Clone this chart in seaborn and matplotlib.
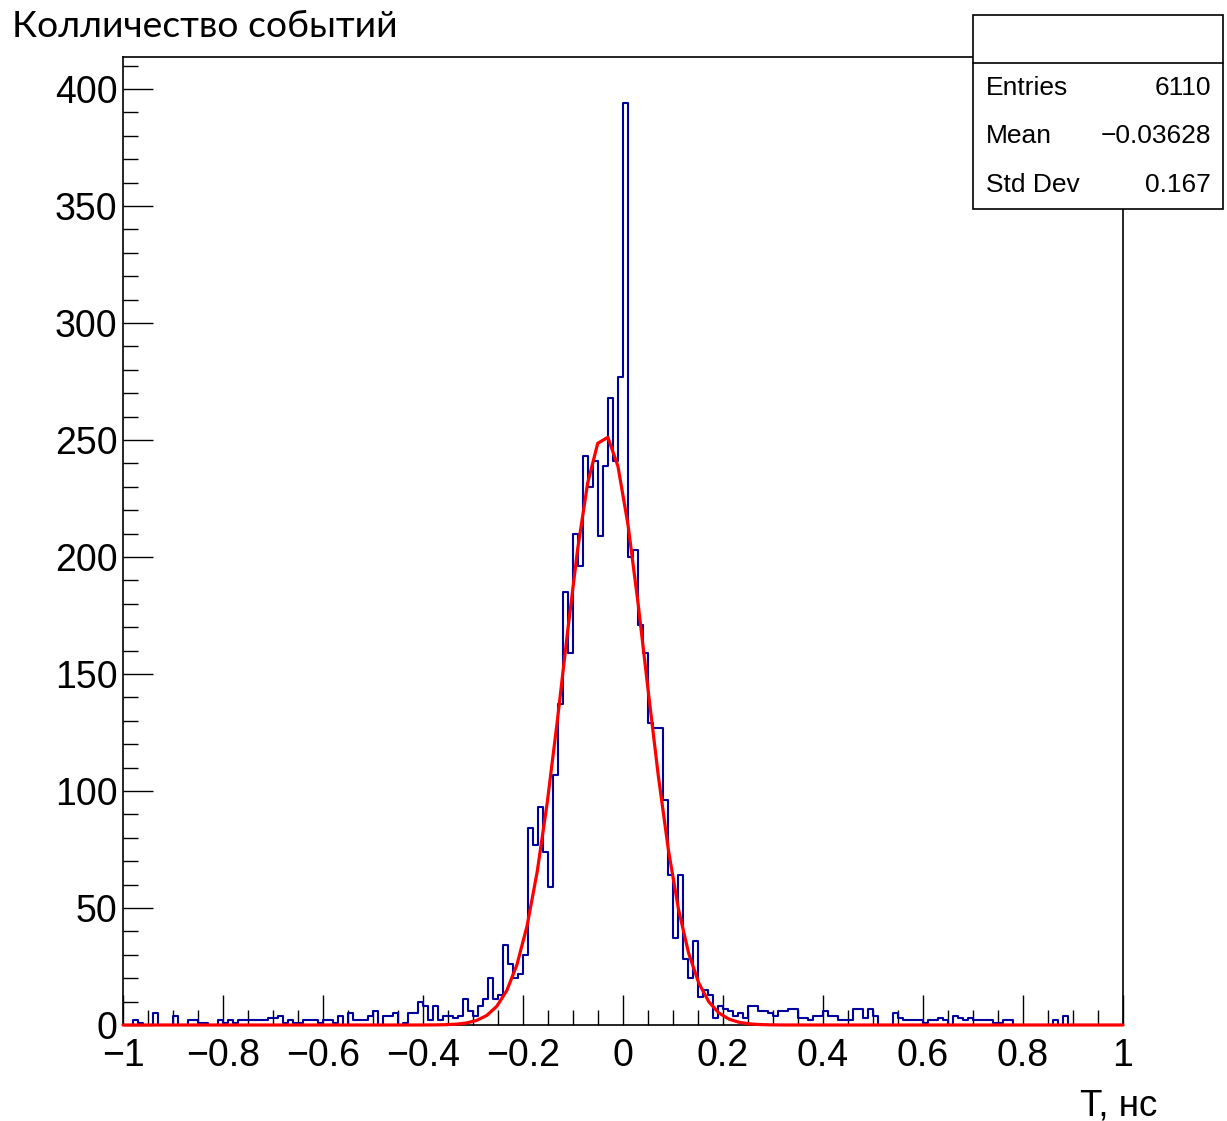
import numpy as np
import pandas as pd
import matplotlib
matplotlib.use("Agg")
import matplotlib.pyplot as plt
import seaborn as sns
from matplotlib.patches import Rectangle
from matplotlib.lines import Line2D
from matplotlib.ticker import MultipleLocator, FixedLocator, FixedFormatter

# ---------------- data ----------------
x_low, x_high = -1.0, 1.0
n_bins = 200

counts_left_tail = [  # bins 0..67  (T from -1.00 to -0.32)
    0, 0, 2, 1, 0, 0, 5, 0, 0, 0,
    4, 0, 0, 2, 2, 1, 1, 0, 0, 2,
    1, 2, 1, 2, 2, 2, 2, 2, 2, 3,
    3, 4, 1, 2, 1, 1, 2, 2, 2, 1,
    2, 2, 1, 4, 0, 5, 2, 2, 2, 4,
    6, 0, 4, 4, 5, 0, 1, 5, 5, 10,
    8, 2, 8, 2, 4, 4, 3, 4,
]
counts_core = [  # bins 68..134 (T from -0.32 to 0.35)
    11, 6, 4, 8, 11, 20, 11, 13, 34, 26,
    20, 22, 30, 84, 77, 93, 74, 59, 107, 137,
    185, 159, 210, 196, 243, 230, 241, 209, 239, 268,
    241, 277, 394, 200, 203, 171, 159, 129, 127, 127,
    96, 64, 37, 64, 28, 20, 36, 12, 15, 13,
    3, 8, 7, 6, 4, 5, 3, 8, 8, 6,
    6, 5, 4, 6, 6, 7, 7,
]
counts_right_tail = [  # bins 135..199 (T from 0.35 to 1.00)
    3, 3, 2, 4, 4, 6, 4, 4, 2, 2,
    2, 7, 7, 3, 7, 4, 0, 0, 0, 5,
    3, 2, 2, 2, 2, 1, 2, 2, 3, 2,
    0, 4, 3, 2, 3, 2, 2, 2, 2, 1,
    1, 2, 2, 0, 0, 0, 0, 0, 0, 0,
    0, 2, 0, 4, 0, 0, 0, 0, 0, 0,
    0, 0, 0, 0, 0,
]
counts = counts_left_tail + counts_core + counts_right_tail

# Gaussian fit (drawn as a 100-point polyline, like ROOT)
fit_constant = 252.0
fit_mean = -0.037
fit_sigma = 0.082
fit_npx = 100

x_tick_values = [-1.0, -0.8, -0.6, -0.4, -0.2, 0.0, 0.2, 0.4, 0.6, 0.8, 1.0]
x_tick_labels = ["\u22121", "\u22120.8", "\u22120.6", "\u22120.4", "\u22120.2",
                 "0", "0.2", "0.4", "0.6", "0.8", "1"]
y_tick_values = [0, 50, 100, 150, 200, 250, 300, 350, 400]
y_tick_labels = ["0", "50", "100", "150", "200", "250", "300", "350", "400"]

title_text = "Колличество событий"
x_label_text = "T, нс"
stats_names = ["Entries", "Mean", "Std Dev"]
stats_values = ["6110", "\u22120.03628", "0.167"]

# ---------------- style ----------------
sns.set_style("white")
plt.rcParams["font.family"] = ["Liberation Sans", "DejaVu Sans"]

W, H = 1227, 1121
fig = plt.figure(figsize=(W / 100, H / 100), dpi=100)
fig.patch.set_facecolor("white")

def fx(px):
    return px / W

def fy(py):
    return 1 - py / H

ax = fig.add_axes([fx(123), fy(1025), (1123 - 123) / W, (1025 - 57) / H])

edges = np.linspace(x_low, x_high, n_bins + 1)
centers = 0.5 * (edges[:-1] + edges[1:])
df = pd.DataFrame({"T": centers, "count": counts})

sns.histplot(data=df, x="T", weights="count", bins=n_bins,
             binrange=(x_low, x_high), element="step",
             fill=False, color="#00009c", linewidth=1.5, ax=ax)

xs = np.linspace(x_low, x_high, fit_npx)
ys = fit_constant * np.exp(-0.5 * ((xs - fit_mean) / fit_sigma) ** 2)
fit_df = pd.DataFrame({"T": xs, "fit": ys})
sns.lineplot(data=fit_df, x="T", y="fit", color="#ff0000", linewidth=2.3,
             ax=ax, zorder=4)
ax.lines[-1].set_clip_on(False)

ax.set_xlim(x_low, x_high)
ax.set_ylim(0, 1.05 * max(counts))
ax.set_xlabel("")
ax.set_ylabel("")

ax.xaxis.set_major_locator(FixedLocator(x_tick_values))
ax.xaxis.set_major_formatter(FixedFormatter(x_tick_labels))
ax.xaxis.set_minor_locator(MultipleLocator(0.05))
ax.yaxis.set_major_locator(FixedLocator(y_tick_values))
ax.yaxis.set_major_formatter(FixedFormatter(y_tick_labels))
ax.yaxis.set_minor_locator(MultipleLocator(10))

ax.tick_params(which="both", direction="in", bottom=True, left=True,
               top=False, right=False, color="black", width=1.0)
ax.tick_params(which="major", length=21.5, labelsize=27, labelcolor="black")
ax.tick_params(which="minor", length=10.5)
ax.tick_params(axis="x", which="major", pad=9)
ax.tick_params(axis="y", which="major", pad=4)

for sp in ax.spines.values():
    sp.set_visible(True)
    sp.set_color("black")
    sp.set_linewidth(1.2)

# ---------------- stats box ----------------
box = Rectangle((fx(973), fy(209)), (1223 - 973) / W, (209 - 15) / H,
                transform=fig.transFigure, facecolor="white",
                edgecolor="black", linewidth=1.2, zorder=10)
fig.add_artist(box)
fig.add_artist(Line2D([fx(973), fx(1223)], [fy(63), fy(63)],
                      transform=fig.transFigure, color="black",
                      linewidth=1.2, zorder=11))
row_y = [88, 136, 185]
for name, val, ry in zip(stats_names, stats_values, row_y):
    fig.text(fx(986), fy(ry), name, ha="left", va="center",
             fontsize=19, color="black", zorder=12)
    fig.text(fx(1211), fy(ry), val, ha="right", va="center",
             fontsize=19, color="black", zorder=12)

# ---------------- titles ----------------
fig.text(fx(12), fy(37), title_text, ha="left", va="baseline",
         fontsize=26.8, color="black",
         family=["Lato", "Open Sans", "DejaVu Sans"])
fig.text(fx(1157), fy(1116), x_label_text, ha="right", va="baseline",
         fontsize=26.5, color="black")

fig.savefig("out.png", dpi=100, facecolor="white")
